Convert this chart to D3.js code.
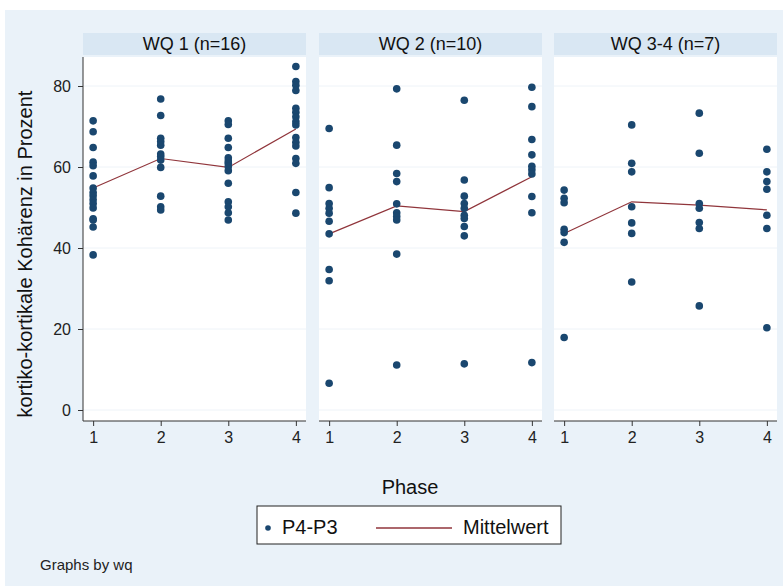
<!DOCTYPE html>
<html>
<head>
<meta charset="utf-8">
<script src="https://cdn.jsdelivr.net/npm/d3@7"></script>
<style>
  body { margin: 0; background: #ffffff; }
  svg { display: block; font-family: "Liberation Sans", Arial, sans-serif; }
</style>
</head>
<body>
<div id="chart"></div>
<script>
// phases on the x axis
var phases = [1, 2, 3, 4];
var yTicks = [0, 20, 40, 60, 80];
var panelTitles = ["WQ 1 (n=16)", "WQ 2 (n=10)", "WQ 3-4 (n=7)"];

// P4-P3 values per phase
var wq1Values = [
    [71.4, 68.7, 64.8, 61.2, 60.3, 57.8, 54.8, 53.7, 52.9, 51.9, 51.0, 49.9, 47.2, 46.9, 45.2, 38.3],
    [76.8, 72.7, 67.1, 66.3, 65.4, 63.2, 62.6, 61.7, 59.9, 52.8, 50.2, 49.4],
    [71.4, 70.5, 67.1, 64.8, 62.3, 61.5, 60.9, 60.1, 59.1, 56.0, 51.4, 50.2, 48.7, 46.9],
    [84.8, 81.1, 80.2, 78.9, 74.5, 73.5, 72.4, 71.2, 70.4, 67.3, 66.1, 65.2, 62.1, 60.9, 53.7, 48.6]
];
var wq2Values = [
    [69.5, 54.9, 51.0, 49.8, 48.6, 46.6, 43.5, 34.7, 31.9, 6.6],
    [79.3, 65.4, 58.4, 56.4, 50.9, 48.7, 47.8, 46.9, 38.5, 11.1],
    [76.5, 56.8, 52.8, 51.0, 49.8, 48.1, 47.3, 45.3, 43.0, 11.4],
    [79.7, 74.9, 66.8, 63.0, 60.2, 59.3, 58.3, 52.7, 48.7, 11.7]
];
var wq34Values = [
    [54.3, 52.3, 51.2, 44.6, 43.8, 41.4, 17.9],
    [70.4, 60.9, 58.8, 50.2, 46.2, 43.6, 31.6],
    [73.3, 63.4, 51.0, 49.8, 46.3, 44.8, 25.7],
    [64.4, 58.8, 56.4, 54.5, 48.1, 44.8, 20.3]
];

// Mittelwert per phase
var wq1Means = [54.8, 62.1, 59.9, 69.4];
var wq2Means = [43.5, 50.4, 49.0, 57.6];
var wq34Means = [43.6, 51.4, 50.6, 49.4];

var panelValues = [wq1Values, wq2Values, wq34Values];
var panelMeans = [wq1Means, wq2Means, wq34Means];

var width = 783, height = 586;
var dotColor = "#1a476f", lineColor = "#90353b";
var plotTop = 57, plotBottom = 421;
var panelLeft = [83, 319, 554], panelWidth = 223;

var svg = d3.select("#chart").append("svg")
    .attr("width", width)
    .attr("height", height);

// outer light blue background
svg.append("rect")
    .attr("x", 5).attr("y", 10)
    .attr("width", width - 5).attr("height", height - 10)
    .attr("fill", "#eaf2f9");

var y = d3.scaleLinear().domain([0, 80]).range([410, 86]);

panelTitles.forEach(function (title, i) {
    var left = panelLeft[i];
    var x = d3.scaleLinear().domain([0.85, 4.15]).range([left, left + panelWidth]);
    var g = svg.append("g");

    // strip header
    g.append("rect")
        .attr("x", left).attr("y", 33)
        .attr("width", panelWidth).attr("height", 22)
        .attr("fill", "#d9e7f3");
    g.append("text")
        .attr("x", left + panelWidth / 2).attr("y", 50)
        .attr("text-anchor", "middle")
        .attr("font-size", 18)
        .attr("fill", "#111")
        .text(title);

    // plot region
    g.append("rect")
        .attr("x", left).attr("y", plotTop)
        .attr("width", panelWidth).attr("height", plotBottom - plotTop)
        .attr("fill", "#ffffff");

    // faint grid lines
    g.selectAll(".grid")
        .data(yTicks)
        .enter().append("line")
        .attr("x1", left).attr("x2", left + panelWidth)
        .attr("y1", function (d) { return y(d); })
        .attr("y2", function (d) { return y(d); })
        .attr("stroke", "#eef3f8")
        .attr("stroke-width", 1);

    // x axis
    var xAxis = g.append("g")
        .attr("transform", "translate(0," + plotBottom + ")")
        .call(d3.axisBottom(x).tickValues(phases).tickSize(5).tickPadding(6).tickFormat(d3.format("d")));
    xAxis.select(".domain").attr("stroke", "#333").attr("d", "M" + left + ",0H" + (left + panelWidth));
    xAxis.selectAll(".tick line").attr("stroke", "#333");
    xAxis.selectAll("text").attr("font-size", 16).attr("fill", "#222")
        .attr("font-family", "Liberation Sans, Arial, sans-serif");

    // y axis only on the first panel
    if (i === 0) {
        var yAxis = g.append("g")
            .attr("transform", "translate(" + left + ",0)")
            .call(d3.axisLeft(y).tickValues(yTicks).tickSize(5).tickPadding(7));
        yAxis.select(".domain").attr("stroke", "#333").attr("d", "M0," + plotTop + "V" + plotBottom);
        yAxis.selectAll(".tick line").attr("stroke", "#333");
        yAxis.selectAll("text").attr("font-size", 16).attr("fill", "#222")
            .attr("font-family", "Liberation Sans, Arial, sans-serif");
    }

    // mean line
    var line = d3.line()
        .x(function (d, k) { return x(phases[k]); })
        .y(function (d) { return y(d); });
    g.append("path")
        .datum(panelMeans[i])
        .attr("d", line)
        .attr("fill", "none")
        .attr("stroke", lineColor)
        .attr("stroke-width", 1.2);

    // dots
    var pts = [];
    panelValues[i].forEach(function (vals, k) {
        vals.forEach(function (v) { pts.push({ phase: phases[k], value: v }); });
    });
    g.selectAll(".dot")
        .data(pts)
        .enter().append("circle")
        .attr("cx", function (d) { return x(d.phase); })
        .attr("cy", function (d) { return y(d.value); })
        .attr("r", 3.8)
        .attr("fill", dotColor);
});

// axis titles
svg.append("text")
    .attr("transform", "translate(32,254) rotate(-90)")
    .attr("text-anchor", "middle")
    .attr("font-size", 20)
    .attr("fill", "#111")
    .text("kortiko-kortikale Kohärenz in Prozent");

svg.append("text")
    .attr("x", 410).attr("y", 494)
    .attr("text-anchor", "middle")
    .attr("font-size", 20)
    .attr("fill", "#111")
    .text("Phase");

// legend
var legend = svg.append("g");
legend.append("rect")
    .attr("x", 257).attr("y", 506)
    .attr("width", 304).attr("height", 38)
    .attr("fill", "#ffffff")
    .attr("stroke", "#222")
    .attr("stroke-width", 1);
legend.append("circle")
    .attr("cx", 268).attr("cy", 528)
    .attr("r", 2.8)
    .attr("fill", dotColor);
legend.append("text")
    .attr("x", 282).attr("y", 534)
    .attr("font-size", 20)
    .attr("fill", "#111")
    .text("P4-P3");
legend.append("line")
    .attr("x1", 376).attr("x2", 452)
    .attr("y1", 528).attr("y2", 528)
    .attr("stroke", lineColor)
    .attr("stroke-width", 1.5);
legend.append("text")
    .attr("x", 463).attr("y", 534)
    .attr("font-size", 20)
    .attr("fill", "#111")
    .text("Mittelwert");

svg.append("text")
    .attr("x", 40).attr("y", 570)
    .attr("font-size", 15)
    .attr("fill", "#222")
    .text("Graphs by wq");
</script>
</body>
</html>
